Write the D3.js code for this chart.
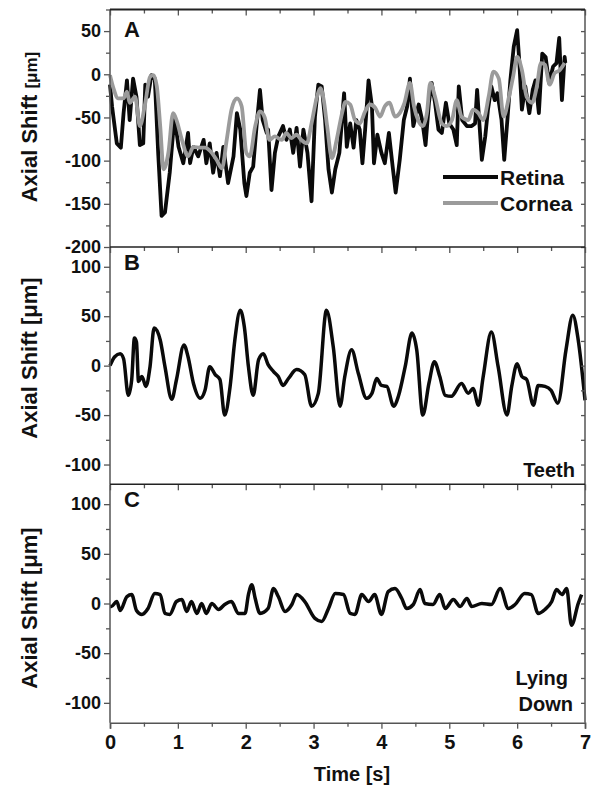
<!DOCTYPE html>
<html>
<head>
<meta charset="utf-8">
<script src="https://cdn.jsdelivr.net/npm/d3@7"></script>
<style>
  body { margin: 0; background: #fff; }
  svg { display: block; }
  text { font-family: "Liberation Sans", Arial, sans-serif; font-weight: bold; fill: #111; }
</style>
</head>
<body>
<svg id="chart" width="593" height="786"></svg>
<script>
// time [s] / axial shift [um] pairs
var retina = [[0,-12],[0.03,-37],[0.1,-80],[0.16,-85],[0.2,-45],[0.25,-7],[0.29,-53],[0.34,-5],[0.39,-26],[0.44,-82],[0.49,-80],[0.52,-12],[0.56,-26],[0.61,-1],[0.66,-5],[0.71,-91],[0.76,-164],[0.81,-160],[0.88,-114],[0.95,-49],[1.01,-84],[1.08,-103],[1.15,-68],[1.18,-103],[1.23,-84],[1.3,-95],[1.38,-76],[1.42,-103],[1.47,-80],[1.52,-114],[1.57,-91],[1.62,-118],[1.67,-84],[1.74,-126],[1.82,-95],[1.87,-45],[1.92,-64],[1.98,-126],[2.01,-141],[2.06,-114],[2.11,-107],[2.16,-60],[2.21,-18],[2.25,-53],[2.31,-68],[2.33,-64],[2.38,-134],[2.43,-91],[2.48,-72],[2.55,-60],[2.6,-76],[2.65,-64],[2.7,-91],[2.75,-62],[2.8,-107],[2.85,-64],[2.91,-91],[2.97,-147],[3.02,-49],[3.07,-12],[3.12,-14],[3.17,-53],[3.22,-110],[3.27,-137],[3.32,-110],[3.38,-91],[3.45,-22],[3.49,-84],[3.54,-57],[3.59,-85],[3.63,-53],[3.68,-64],[3.72,-103],[3.76,-64],[3.81,-7],[3.86,-37],[3.89,-103],[3.94,-70],[4.0,-91],[4.05,-103],[4.11,-68],[4.17,-110],[4.21,-137],[4.27,-99],[4.33,-53],[4.38,-37],[4.42,-5],[4.47,-60],[4.55,-35],[4.6,-53],[4.65,-82],[4.7,-33],[4.74,-10],[4.79,-33],[4.84,-64],[4.89,-68],[4.95,-33],[5.0,-57],[5.06,-64],[5.11,-82],[5.14,-14],[5.19,-53],[5.26,-60],[5.33,-60],[5.38,-57],[5.41,-18],[5.45,-64],[5.48,-99],[5.53,-72],[5.57,-41],[5.62,-14],[5.67,-30],[5.71,-22],[5.77,-53],[5.81,-99],[5.86,-49],[5.9,-7],[5.95,32],[6.0,51],[6.03,17],[6.07,-41],[6.12,-14],[6.18,-45],[6.23,-18],[6.27,-7],[6.32,-45],[6.37,24],[6.42,20],[6.47,-10],[6.53,9],[6.58,13],[6.62,42],[6.66,-30],[6.7,20],[6.71,13]];

var cornea = [[0,-1],[0.05,-16],[0.12,-28],[0.2,-28],[0.25,-20],[0.29,-33],[0.37,-26],[0.44,-60],[0.52,-33],[0.59,-3],[0.64,-1],[0.69,-14],[0.74,-60],[0.79,-110],[0.86,-91],[0.93,-45],[0.98,-53],[1.06,-76],[1.15,-95],[1.23,-84],[1.33,-85],[1.4,-85],[1.5,-91],[1.57,-99],[1.65,-109],[1.72,-76],[1.79,-41],[1.87,-28],[1.94,-37],[2.01,-91],[2.06,-95],[2.14,-60],[2.21,-43],[2.28,-50],[2.35,-76],[2.43,-72],[2.53,-76],[2.6,-68],[2.67,-74],[2.75,-70],[2.82,-76],[2.9,-80],[2.97,-57],[3.05,-26],[3.1,-16],[3.15,-30],[3.2,-60],[3.27,-97],[3.34,-76],[3.42,-45],[3.47,-32],[3.54,-35],[3.61,-53],[3.68,-57],[3.76,-43],[3.83,-35],[3.91,-39],[3.98,-49],[4.05,-37],[4.12,-33],[4.2,-49],[4.27,-45],[4.34,-33],[4.42,-10],[4.48,-37],[4.54,-53],[4.61,-60],[4.67,-45],[4.72,-10],[4.79,-26],[4.89,-57],[4.96,-60],[5.04,-53],[5.11,-30],[5.18,-49],[5.28,-53],[5.35,-41],[5.43,-45],[5.5,-53],[5.58,-26],[5.65,3],[5.73,-5],[5.8,-49],[5.88,-26],[5.94,-3],[6.0,20],[6.07,5],[6.14,-26],[6.22,-33],[6.29,-14],[6.35,13],[6.41,11],[6.48,-12],[6.55,1],[6.63,5],[6.7,13]];

var teeth = [[0,0],[0.07,9],[0.15,12],[0.2,7],[0.27,-30],[0.32,-14],[0.36,28],[0.39,24],[0.42,-16],[0.47,-11],[0.53,-21],[0.59,-1],[0.65,38],[0.74,26],[0.81,-1],[0.91,-34],[0.98,-14],[1.09,21],[1.15,9],[1.23,-18],[1.33,-33],[1.4,-25],[1.47,-1],[1.55,-9],[1.62,-14],[1.69,-50],[1.77,-21],[1.84,26],[1.92,56],[1.98,39],[2.04,-1],[2.11,-30],[2.19,6],[2.26,12],[2.33,1],[2.41,-6],[2.48,-11],[2.55,-20],[2.63,-13],[2.75,-4],[2.87,-9],[2.97,-41],[3.07,-28],[3.19,56],[3.29,19],[3.39,-41],[3.46,-11],[3.56,16],[3.66,-8],[3.78,-33],[3.86,-28],[3.93,-13],[4.0,-20],[4.08,-21],[4.18,-41],[4.25,-31],[4.35,-1],[4.45,33],[4.52,16],[4.61,-50],[4.7,-18],[4.78,4],[4.86,-11],[4.94,-30],[5.03,-31],[5.18,-18],[5.28,-28],[5.35,-23],[5.43,-40],[5.5,-11],[5.62,34],[5.72,-1],[5.85,-50],[5.92,-21],[6.0,2],[6.07,-11],[6.14,-14],[6.24,-40],[6.31,-20],[6.41,-21],[6.5,-25],[6.6,-38],[6.72,16],[6.82,51],[6.9,26],[7.0,-35]];

var lying = [[0,-3],[0.02,-3],[0.1,2],[0.15,-7],[0.25,7],[0.32,9],[0.39,-7],[0.47,-11],[0.56,-5],[0.66,10],[0.74,9],[0.81,-10],[0.88,-11],[0.98,2],[1.06,4],[1.13,-8],[1.2,2],[1.28,-10],[1.35,0],[1.42,-10],[1.5,0],[1.6,-6],[1.69,-1],[1.79,2],[1.89,-10],[1.99,-10],[2.04,9],[2.09,19],[2.14,5],[2.21,-10],[2.33,-5],[2.41,15],[2.48,7],[2.58,-8],[2.68,-1],[2.75,9],[2.87,2],[3.02,-15],[3.12,-18],[3.22,-5],[3.32,10],[3.44,9],[3.54,-10],[3.61,-11],[3.71,9],[3.81,2],[3.9,9],[4.0,-11],[4.1,12],[4.2,15],[4.3,5],[4.37,-5],[4.47,-1],[4.57,14],[4.64,0],[4.76,-1],[4.86,9],[4.94,-5],[5.06,4],[5.16,-3],[5.26,5],[5.33,-3],[5.48,0],[5.62,-1],[5.75,15],[5.87,-5],[5.97,-1],[6.11,10],[6.21,9],[6.31,-10],[6.41,-6],[6.51,2],[6.58,14],[6.66,9],[6.73,15],[6.8,-22],[6.9,0],[6.95,9]];

var timeTicks = [0, 1, 2, 3, 4, 5, 6, 7];
var ticksA = [50, 0, -50, -100, -150, -200];
var ticksBC = [100, 50, 0, -50, -100];

var svg = d3.select("#chart");
var left = 110, right = 585;
var FONT = "'Liberation Sans', Arial, sans-serif";

var x = d3.scaleLinear().domain([0, 7]).range([left, right]);

var panels = [
  { top: 9.5, bottom: 247, domain: [-200, 75], ticks: ticksA, letter: "A", lblY: 127, smallUnit: true },
  { top: 247, bottom: 484.3, domain: [-120, 120], ticks: ticksBC, letter: "B", lblY: 358 },
  { top: 484.3, bottom: 722.7, domain: [-120, 120], ticks: ticksBC, letter: "C", lblY: 608 }
];
panels.forEach(function(p) {
  p.y = d3.scaleLinear().domain(p.domain).range([p.bottom, p.top]);
});

function line(yScale, curve) {
  return d3.line()
    .x(function(d) { return x(d[0]); })
    .y(function(d) { return yScale(d[1]); })
    .curve(curve);
}

// data lines
var pA = panels[0], pB = panels[1], pC = panels[2];
svg.append("path").attr("d", line(pA.y, d3.curveLinear)(retina))
  .attr("fill", "none").attr("stroke", "#0a0a0a").attr("stroke-width", 3.8).attr("stroke-linejoin", "round");
svg.append("path").attr("d", line(pA.y, d3.curveMonotoneX)(cornea))
  .attr("fill", "none").attr("stroke", "#9b9b9b").attr("stroke-width", 3.8).attr("stroke-linejoin", "round");
svg.append("path").attr("d", line(pB.y, d3.curveMonotoneX)(teeth))
  .attr("fill", "none").attr("stroke", "#0a0a0a").attr("stroke-width", 3.5).attr("stroke-linejoin", "round");
svg.append("path").attr("d", line(pC.y, d3.curveMonotoneX)(lying))
  .attr("fill", "none").attr("stroke", "#0a0a0a").attr("stroke-width", 3.5).attr("stroke-linejoin", "round");

function styleTicks(g) {
  g.select(".domain").remove();
  g.selectAll("line").attr("stroke", "#555").attr("stroke-width", 1.3);
}

// axes for each panel
var halfTicks = d3.range(0, 7.01, 0.5);
panels.forEach(function(p, i) {
  var minorVals = d3.range(-200, 101, 25)
    .filter(function(v) { return v >= p.domain[0] && v <= p.domain[1] && p.ticks.indexOf(v) < 0; });

  // left axis: minor + major, outward
  svg.append("g").attr("transform", "translate(" + left + ",0)")
    .call(d3.axisLeft(p.y).tickValues(minorVals).tickSize(4).tickFormat(""))
    .call(styleTicks);
  var la = svg.append("g").attr("transform", "translate(" + left + ",0)")
    .call(d3.axisLeft(p.y).tickValues(p.ticks).tickSize(6).tickPadding(3).tickFormat(function(d) { return String(d); }));
  styleTicks(la);
  la.selectAll("text").attr("font-size", 18).attr("fill", "#111")
    .style("font-family", FONT).style("font-weight", "bold");

  // right axis: inward ticks
  svg.append("g").attr("transform", "translate(" + right + ",0)")
    .call(d3.axisLeft(p.y).tickValues(minorVals.concat(p.ticks)).tickSize(4).tickFormat(""))
    .call(styleTicks);

  // top ticks pointing inward
  svg.append("g").attr("transform", "translate(0," + p.top + ")")
    .call(d3.axisBottom(x).tickValues(halfTicks).tickSize(5).tickFormat(""))
    .call(function(g) {
      styleTicks(g);
      g.selectAll(".tick line").attr("y2", function(d) { return Number.isInteger(d) ? 6 : 4; });
    });

  // frame
  svg.append("line").attr("x1", left).attr("x2", left).attr("y1", p.top).attr("y2", p.bottom)
    .attr("stroke", "#555").attr("stroke-width", 1.5);
  svg.append("line").attr("x1", right).attr("x2", right).attr("y1", p.top).attr("y2", p.bottom)
    .attr("stroke", "#555").attr("stroke-width", 1.5);
  svg.append("line").attr("x1", left).attr("x2", right).attr("y1", p.top).attr("y2", p.top)
    .attr("stroke", "#222").attr("stroke-width", i === 0 ? 2 : 1.6);

  // panel letter
  svg.append("text").attr("x", 124).attr("y", p.top + (i === 0 ? 27 : 23))
    .attr("font-size", 22).text(p.letter);

  // y label
  var yl = svg.append("text")
    .attr("transform", "translate(37," + p.lblY + ") rotate(-90)")
    .attr("text-anchor", "middle").attr("font-size", 22);
  yl.append("tspan").text("Axial Shift ");
  yl.append("tspan").attr("font-size", p.smallUnit ? 17 : 22).text("[\u03bcm]");
});

// bottom axis of panel C
var xa = svg.append("g").attr("transform", "translate(0," + pC.bottom + ")")
  .call(d3.axisBottom(x).tickValues(halfTicks).tickSize(6).tickPadding(6)
    .tickFormat(function(d) { return timeTicks.indexOf(d) >= 0 ? String(d) : ""; }));
xa.select(".domain").attr("stroke", "#555").attr("stroke-width", 1.6);
xa.selectAll("line").attr("stroke", "#555").attr("stroke-width", 1.3)
  .attr("y2", function(d) { return Number.isInteger(d) ? 6 : 4; });
xa.selectAll("text").attr("font-size", 20).attr("fill", "#111")
  .style("font-family", FONT).style("font-weight", "bold");

svg.append("text").attr("x", 352).attr("y", 781).attr("text-anchor", "middle")
  .attr("font-size", 20).text("Time [s]");

// legend in panel A
var legend = [["Retina", "#0a0a0a", 177], ["Cornea", "#9b9b9b", 203]];
legend.forEach(function(l) {
  svg.append("line").attr("x1", 443).attr("x2", 498).attr("y1", l[2]).attr("y2", l[2])
    .attr("stroke", l[1]).attr("stroke-width", 4);
  svg.append("text").attr("x", 500).attr("y", l[2] + 8).attr("font-size", 21).text(l[0]);
});

// condition labels
svg.append("text").attr("x", 575).attr("y", 477).attr("text-anchor", "end").attr("font-size", 20).text("Teeth");
svg.append("text").attr("x", 568).attr("y", 685).attr("text-anchor", "end").attr("font-size", 20).text("Lying");
svg.append("text").attr("x", 573).attr("y", 711).attr("text-anchor", "end").attr("font-size", 20).text("Down");
</script>
</body>
</html>
